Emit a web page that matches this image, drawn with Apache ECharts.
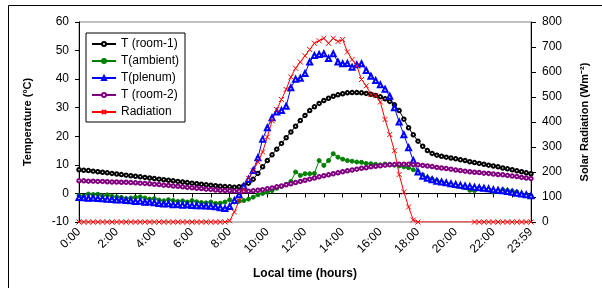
<!DOCTYPE html>
<html>
<head>
<meta charset="utf-8">
<script src="https://cdn.jsdelivr.net/npm/echarts@6/dist/echarts.min.js"></script>
<style>
  html, body { margin: 0; padding: 0; background: #fff; }
  #chart { width: 602px; height: 288px; }
</style>
</head>
<body>
<div id="chart"></div>
<script>
// 15-minute readings, last one at 23:59
var times = [];
for (var i = 0; i < 96; i++) {
  var m = i * 15;
  times.push(Math.floor(m / 60) + ':' + (m % 60 < 10 ? '0' : '') + (m % 60));
}
times.push('23:59');

var tempTicks = [-10, 0, 10, 20, 30, 40, 50, 60];
var radTicks = [0, 100, 200, 300, 400, 500, 600, 700, 800];

var roomOne = [8.3, 8.1, 8.0, 7.8, 7.6, 7.4, 7.2, 7.0, 6.8, 6.6, 6.4, 6.2, 6.0, 5.8, 5.6, 5.4,
  5.2, 5.0, 4.8, 4.6, 4.4, 4.2, 4.0, 3.8, 3.6, 3.4, 3.2, 3.0, 2.9, 2.7, 2.5, 2.4,
  2.3, 2.2, 2.3, 2.7, 3.6, 5.0, 7.0, 9.3, 11.5, 13.5, 15.5, 17.5, 19.5, 21.5, 23.5, 25.5,
  27.3, 29.0, 30.3, 31.5, 32.5, 33.3, 34.0, 34.5, 34.9, 35.2, 35.3, 35.3, 35.2, 35.0, 34.7, 34.3,
  33.8, 33.1, 32.2, 31.0, 29.0, 26.0, 23.0, 20.5, 18.3, 16.5, 15.0, 14.0, 13.4, 13.0, 12.7, 12.4,
  12.1, 11.8, 11.5, 11.1, 10.8, 10.5, 10.2, 9.9, 9.6, 9.3, 8.9, 8.6, 8.3, 7.9, 7.6, 7.2, 6.9];

var ambient = [-0.7, -0.9, -0.2, -0.4, -0.3, -0.8, -0.5, -1.0, -1.2, -1.4, -1.8, -1.6, -1.4, -1.2, -1.6, -2.0,
  -1.8, -2.3, -2.6, -2.2, -2.5, -2.8, -2.6, -3.0, -2.5, -2.9, -3.2, -3.3, -3.0, -3.5, -3.4, -3.0,
  -2.2, -3.0, -2.7, -2.5, -2.0, -1.3, -0.5, 0.0, 0.4, 1.0, 1.8, 2.5, 3.2, 4.2, 7.5, 6.3,
  6.9, 6.9, 7.0, 11.5, 9.8, 11.5, 13.9, 12.7, 12.0, 11.5, 11.3, 11.0, 10.9, 10.5, 10.4, 10.2,
  10.0, 10.3, 10.2, 9.9, 9.6, 9.3, 9.0, 8.3, 7.6, 6.5, 5.5, 5.0, 4.5, 4.0, 3.4, 3.0,
  2.6, 2.4, 2.0, 1.1, 1.0, 1.9, 1.6, 1.2, 0.5, 0.8, 1.3, 1.0, 0.8, 0.5, -0.3, -0.4, -0.8];

var plenum = [-1.4, -1.5, -1.7, -1.6, -1.8, -1.9, -2.0, -2.1, -2.3, -2.2, -2.5, -2.6, -2.8, -2.7, -3.1, -3.0,
  -3.3, -3.5, -3.7, -3.6, -4.0, -3.9, -4.1, -4.0, -4.2, -4.3, -4.3, -4.4, -4.5, -4.7, -5.0, -5.3,
  -4.6, -2.5, -0.5, 2.5, 5.0, 8.0, 12.5, 19.0, 23.0, 26.5, 28.5, 29.0, 30.5, 37.0, 40.0, 40.3,
  42.0, 46.0, 48.3, 48.6, 48.9, 47.2, 48.9, 46.0, 45.4, 45.5, 44.2, 45.0, 45.4, 43.0, 41.0, 39.5,
  38.0, 36.5, 34.0, 30.0, 25.0, 20.5, 16.0, 11.5, 7.5, 6.0, 5.3, 4.8, 4.3, 4.0, 3.7, 3.4,
  3.1, 2.9, 2.6, 2.4, 2.2, 2.0, 1.8, 1.6, 1.3, 1.1, 0.9, 0.7, 0.4, 0.1, -0.2, -0.5, -0.8];

var roomTwo = [4.4, 4.4, 4.3, 4.3, 4.2, 4.2, 4.1, 4.0, 4.0, 3.9, 3.9, 3.8, 3.7, 3.6, 3.5, 3.4,
  3.2, 3.1, 2.9, 2.8, 2.6, 2.5, 2.3, 2.1, 2.0, 1.8, 1.7, 1.5, 1.4, 1.2, 1.1, 1.0,
  0.9, 0.8, 0.8, 0.8, 0.8, 0.9, 1.1, 1.3, 1.6, 1.9, 2.3, 2.6, 3.0, 3.4, 3.8, 4.2,
  4.6, 5.0, 5.4, 5.8, 6.2, 6.5, 6.9, 7.2, 7.6, 7.9, 8.2, 8.5, 8.8, 9.0, 9.3, 9.5,
  9.7, 9.9, 10.0, 10.1, 10.2, 10.2, 10.2, 10.1, 10.0, 9.8, 9.6, 9.4, 9.1, 8.9, 8.7, 8.5,
  8.2, 8.0, 7.8, 7.6, 7.4, 7.3, 7.1, 7.0, 6.8, 6.6, 6.5, 6.3, 6.1, 5.9, 5.6, 5.4, 5.2];

var radiation = [0, 0, 0, 0, 0, 0, 0, 0, 0, 0, 0, 0, 0, 0, 0, 0,
  0, 0, 0, 0, 0, 0, 0, 0, 0, 0, 0, 0, 0, 0, 0, 0,
  5, 40, 85, 130, 175, 205, 240, 280, 340, 405, 450, 490, 530, 580, 615, 640,
  665, 690, 715, 725, 735, 715, 735, 722, 730, 680, 650, 625, 570, 545, 510, 505,
  480, 410, 350, 285, 190, 120, 60, 8, 0, 0, 0, 0, 0, 0, 0, 0,
  0, 0, 0, 0, 0, 0, 0, 0, 0, 0, 0, 0, 0, 0, 0, 0, 0];

var font = 'Liberation Sans, Arial, sans-serif';
var crossPath = 'path://M0,0L10,10M10,0L0,10';

function lineSeries(name, data, color, symbol, size, yIndex) {
  return {
    name: name,
    type: 'line',
    yAxisIndex: yIndex,
    data: data,
    symbol: symbol,
    symbolSize: size,
    showAllSymbol: true,
    animation: false,
    lineStyle: { color: color, width: 1 },
    itemStyle: { color: color, borderColor: color, borderWidth: 1 }
  };
}

// the night-time radiation markers are missing in the original between 18:15 and 21:45
var radSeries = lineSeries('Radiation', radiation, '#ff0000', crossPath, 5, 1);
radSeries.symbolSize = function (v, p) {
  return (p.dataIndex > 72 && p.dataIndex < 84) ? 0 : 5;
};

var chart = echarts.init(document.getElementById('chart'), null, { renderer: 'canvas' });
chart.setOption({
  animation: false,
  backgroundColor: '#fff',
  textStyle: { fontFamily: font },
  graphic: [{
    type: 'rect',
    shape: { x: 8.5, y: 5.5, width: 700, height: 400 },
    style: { fill: 'none', stroke: '#000', lineWidth: 1 },
    silent: true
  }],
  grid: {
    left: 79, right: 71, top: 22, bottom: 66,
    show: true, borderColor: '#808080', borderWidth: 1
  },
  legend: {
    orient: 'vertical',
    left: 86, top: 33,
    padding: [5, 6, 4, 5],
    itemGap: 5,
    itemWidth: 24,
    itemHeight: 5,
    borderColor: '#000',
    borderWidth: 1,
    backgroundColor: '#fff',
    textStyle: { fontFamily: font, fontSize: 12, color: '#000' },
    data: ['T (room-1)', 'T(ambient)', 'T(plenum)', 'T (room-2)', 'Radiation']
  },
  xAxis: {
    type: 'category',
    data: times,
    boundaryGap: false,
    name: 'Local time (hours)',
    nameLocation: 'middle',
    nameGap: 46,
    nameTextStyle: { fontFamily: font, fontSize: 12, fontWeight: 'bold', color: '#000' },
    axisLine: { lineStyle: { color: '#000', width: 1 } },
    axisTick: { interval: 3, length: 4, lineStyle: { color: '#000' } },
    axisLabel: { interval: 7, rotate: 45, fontSize: 12, color: '#000', margin: 8 },
    splitLine: { show: false }
  },
  yAxis: [{
    type: 'value',
    min: tempTicks[0], max: tempTicks[tempTicks.length - 1], interval: 10,
    name: 'Temperature (ºC)',
    nameLocation: 'middle',
    nameRotate: 90,
    nameGap: 46,
    nameTextStyle: { fontFamily: font, fontSize: 11, fontWeight: 'bold', color: '#000' },
    axisLine: { show: true, lineStyle: { color: '#000' } },
    axisTick: { show: true, length: 4, lineStyle: { color: '#000' } },
    axisLabel: { fontSize: 12, color: '#000', margin: 10 },
    splitLine: { show: false }
  }, {
    type: 'value',
    position: 'right',
    min: radTicks[0], max: radTicks[radTicks.length - 1], interval: 100,
    name: 'Solar Radiation (Wm⁻²)',
    nameLocation: 'middle',
    nameRotate: 90,
    nameGap: 48,
    nameTextStyle: { fontFamily: font, fontSize: 11, fontWeight: 'bold', color: '#000' },
    axisLine: { show: true, lineStyle: { color: '#000' } },
    axisTick: { show: true, length: 5, lineStyle: { color: '#000' } },
    axisLabel: { fontSize: 12, color: '#000', margin: 11 },
    splitLine: { show: false }
  }],
  series: [
    lineSeries('T (room-1)', roomOne, '#000000', 'emptyCircle', 3.5, 0),
    lineSeries('T(ambient)', ambient, '#008000', 'circle', 4, 0),
    lineSeries('T(plenum)', plenum, '#0000ff', 'emptyTriangle', 5, 0),
    lineSeries('T (room-2)', roomTwo, '#800080', 'emptyCircle', 3.5, 0),
    radSeries
  ]
});
</script>
</body>
</html>
